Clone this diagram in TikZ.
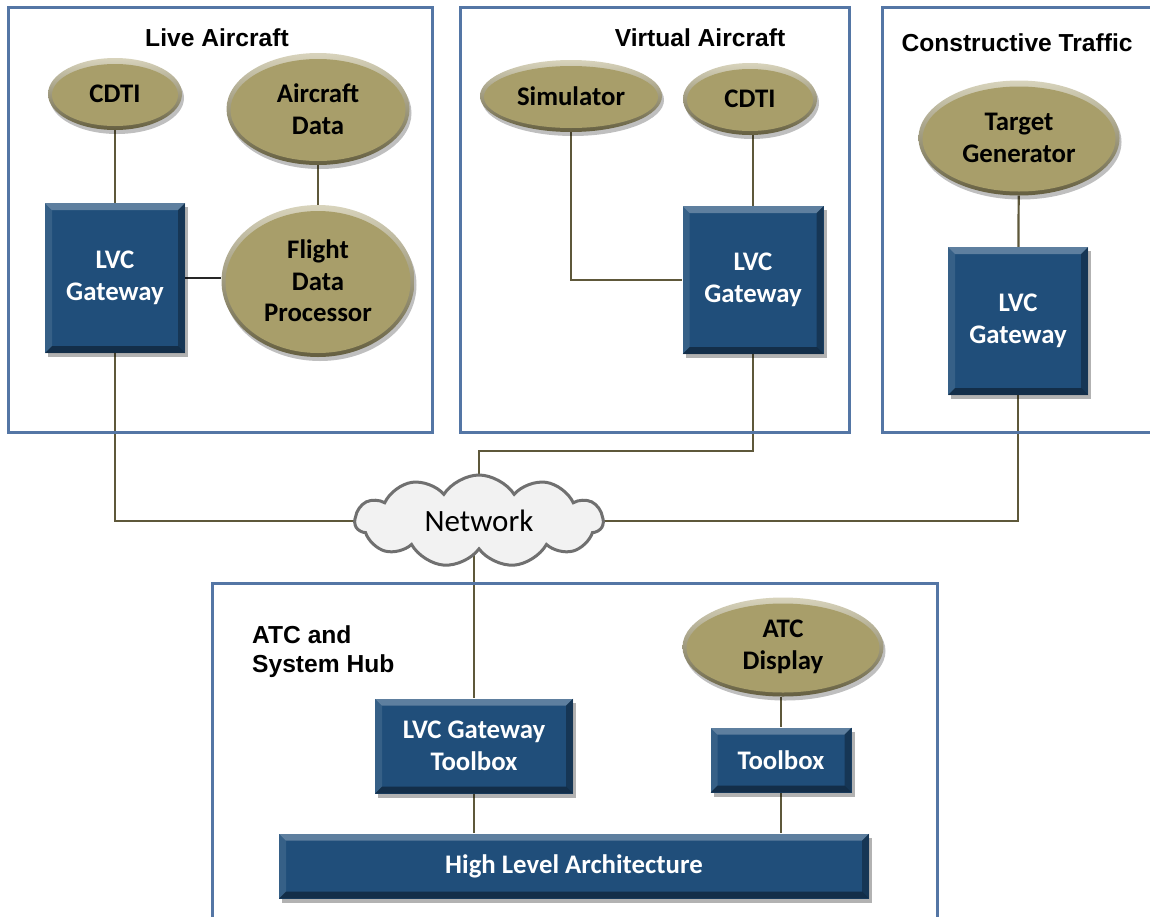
\documentclass[tikz,border=0pt]{standalone}
\usepackage{fontspec}
\newfontfamily\carl{Carlito}
\newfontfamily\arl{Liberation Sans}
\usetikzlibrary{shapes.geometric,shapes.symbols,shadows,calc,backgrounds}
\definecolor{boxblue}{RGB}{32,78,122}
\definecolor{khaki}{RGB}{168,158,106}
\definecolor{frameblue}{RGB}{84,118,165}
\definecolor{wire}{RGB}{94,88,58}
\definecolor{cloudfill}{RGB}{242,242,242}
\definecolor{cloudline}{RGB}{112,112,112}
\tikzset{
  nodefont/.style={font=\carl\bfseries\fontsize{26.8}{31.5}\selectfont},
  titlefont/.style={font=\arl\bfseries\fontsize{24.6}{29}\selectfont},
  framebox/.style={draw=frameblue, line width=3, rectangle, inner sep=0pt},
  bluebox/.style={rectangle, nodefont, text=white, fill=boxblue, inner sep=0pt, align=center,
    drop shadow={shadow xshift=3pt, shadow yshift=-4pt, opacity=0.3, fill=black},
    path picture={
      \coordinate (pA) at (path picture bounding box.north west);
      \coordinate (pB) at (path picture bounding box.north east);
      \coordinate (pC) at (path picture bounding box.south east);
      \coordinate (pD) at (path picture bounding box.south west);
      \fill[white,opacity=.28] (pA) -- (pB) -- ([shift={(-7pt,-7pt)}]pB) -- ([shift={(7pt,-7pt)}]pA) -- cycle;
      \fill[white,opacity=.10] (pA) -- ([shift={(7pt,-7pt)}]pA) -- ([shift={(7pt,7pt)}]pD) -- (pD) -- cycle;
      \fill[black,opacity=.30] (pB) -- (pC) -- ([shift={(-7pt,7pt)}]pC) -- ([shift={(-7pt,-7pt)}]pB) -- cycle;
      \fill[black,opacity=.40] (pD) -- (pC) -- ([shift={(-7pt,7pt)}]pC) -- ([shift={(7pt,7pt)}]pD) -- cycle;
    }},
  bubble/.style={ellipse, nodefont, text=black, inner sep=0pt, align=center,
    top color=khaki!45!white, bottom color=khaki!60!black,
    drop shadow={shadow xshift=2pt, shadow yshift=-4pt, opacity=0.25, fill=black},
    path picture={
      \fill[khaki] let \p1=(path picture bounding box.north east), \p2=(path picture bounding box.south west) in
        ($(\p1)!0.5!(\p2)+(0pt,-1pt)$) ellipse [x radius={(\x1-\x2)/2-4pt}, y radius={(\y1-\y2)/2-5pt}];
    }},
  wireline/.style={draw=wire, line width=2.2},
}
\begin{document}
\begin{tikzpicture}[x=1pt,y=-1pt]
\useasboundingbox (0,0) rectangle (1150,916);

% frames
\node[framebox, minimum width=424, minimum height=425] (fLive) at (220,219.5) {};
\node[framebox, minimum width=389, minimum height=425] (fVirt) at (654.5,219.5) {};
\node[framebox, minimum width=290, minimum height=425] (fCons) at (1027,219.5) {};
\node[framebox, minimum width=725, minimum height=360] (fAtc) at (574.5,763) {};

% titles
\node[titlefont, anchor=base] (tLive) at (217,46) {Live Aircraft};
\node[titlefont, anchor=base] (tVirt) at (700,46) {Virtual Aircraft};
\node[titlefont, anchor=base] (tCons) at (1017,51) {Constructive Traffic};
\node[titlefont, anchor=north west, align=left, inner sep=0pt] (tAtc) at (252,625) {ATC and\\System Hub};

% Live aircraft
\node[bubble, minimum width=134, minimum height=72] (cdtiL) at (115,94) {CDTI};
\node[bubble, minimum width=183, minimum height=112] (acdata) at (318,109) {Aircraft\\Data};
\node[bluebox, minimum width=140, minimum height=150] (gwL) at (115,278) {LVC\\Gateway};
\node[bubble, minimum width=193, minimum height=152] (fdp) at (318,281) {Flight\\Data\\Processor};

% Virtual aircraft
\node[bubble, minimum width=182, minimum height=72] (sim) at (571,96) {Simulator};
\node[bubble, minimum width=134, minimum height=72] (cdtiV) at (750,99) {CDTI};
\node[bluebox, minimum width=141, minimum height=148] (gwV) at (753,280) {LVC\\Gateway};

% Constructive traffic
\node[bubble, minimum width=201, minimum height=115] (tgen) at (1019,138) {Target\\Generator};
\node[bluebox, minimum width=140, minimum height=148] (gwC) at (1018,321) {LVC\\Gateway};

% ATC and system hub
\node[bubble, minimum width=201, minimum height=99] (atcd) at (783,647) {ATC\\Display};
\node[bluebox, minimum width=198, minimum height=95] (lgt) at (474,746) {LVC Gateway\\Toolbox};
\node[bluebox, minimum width=141, minimum height=65] (tb) at (781,760) {Toolbox};
\node[bluebox, minimum width=590, minimum height=65] (hla) at (574,866) {High Level Architecture};

% network cloud
\node[cloud, cloud puffs=11, cloud puff arc=115, cloud ignores aspect, minimum width=248, minimum height=92,
      fill=cloudfill, draw=cloudline, line width=3, inner sep=0pt,
      font=\carl\fontsize{31}{36}\selectfont] (net) at (479,521) {Network};

\coordinate (vj) at (0,451);

\begin{pgfonlayer}{background}
  \fill[white] (0,0) rectangle (1150,916);
  \draw[wireline] (cdtiL) -- (gwL);
  \draw[wireline] (acdata) -- (fdp);
  \draw[wireline, draw=black!85] (gwL.east) -- (gwL.east -| fdp.west);
  \draw[wireline] (gwL.south) |- (net.center);
  \draw[wireline] (sim.south) |- (gwV.west);
  \draw[wireline] (gwV.north |- cdtiV.south) -- (gwV.north);
  \draw[wireline] (gwV.south) -- (gwV.south |- vj) -| (net.center);
  \draw[wireline] (tgen) -- (gwC);
  \draw[wireline] (gwC.south) |- (net.center);
  \draw[wireline] (net.center -| lgt.north) -- (lgt.north);
  \draw[wireline] (tb.north |- atcd.south) -- (tb.north);
  \draw[wireline] (lgt.south) -- (lgt.south |- hla.north);
  \draw[wireline] (tb.south) -- (tb.south |- hla.north);
\end{pgfonlayer}
\end{tikzpicture}
\end{document}
